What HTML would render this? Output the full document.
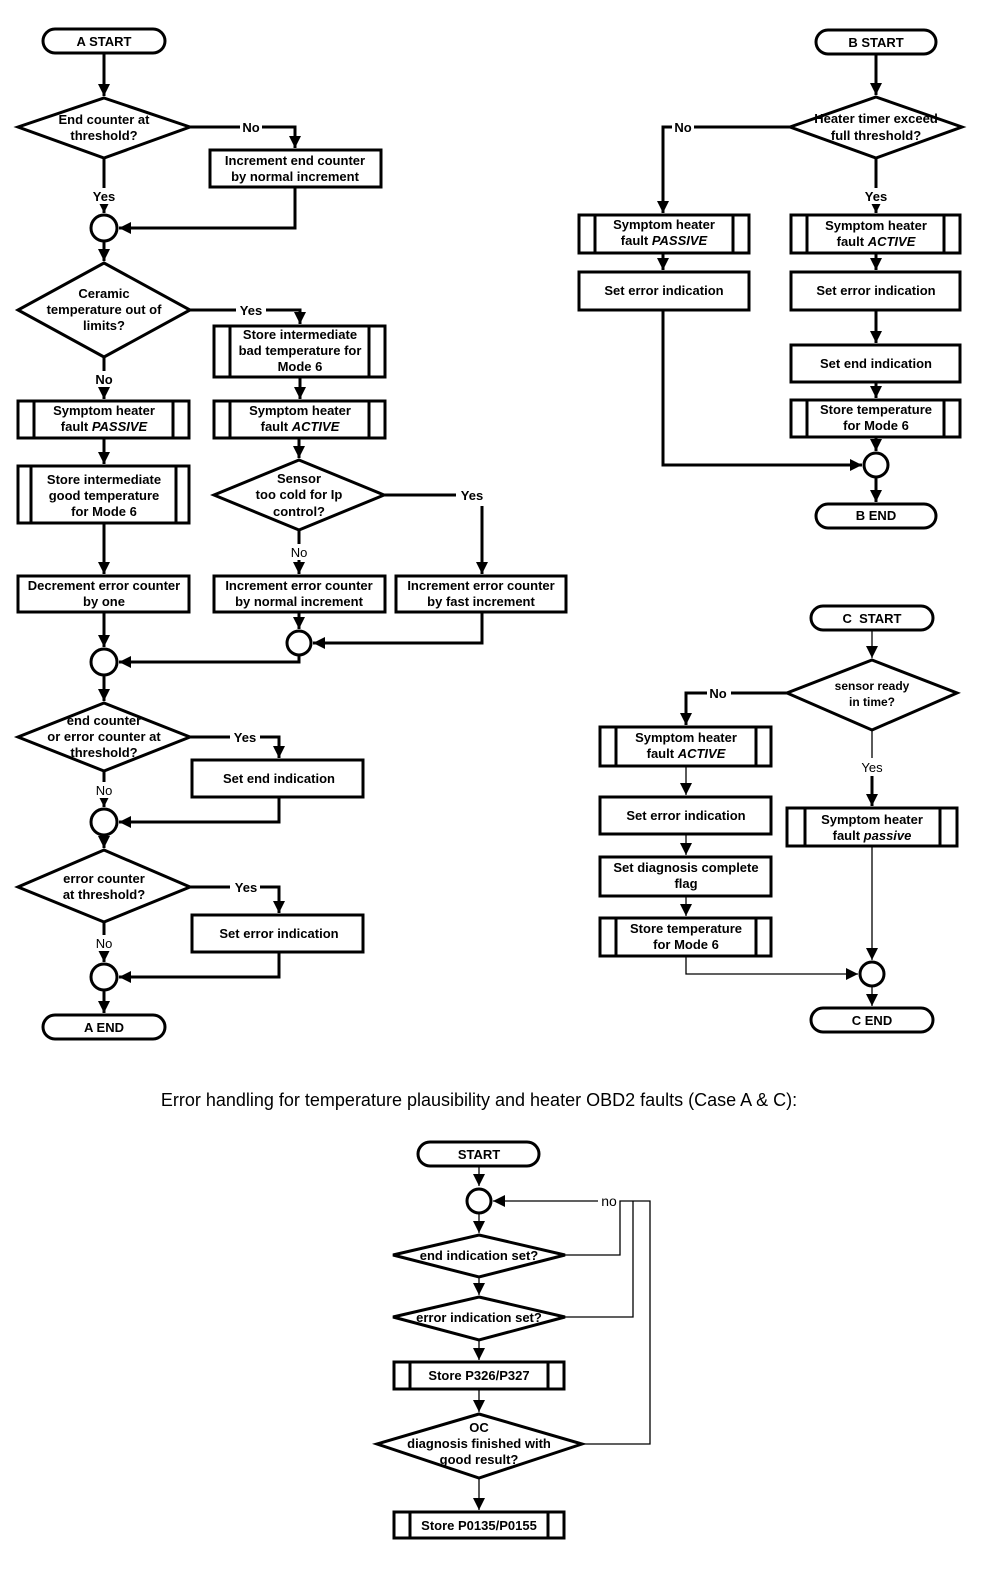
<!DOCTYPE html>
<html><head><meta charset="utf-8"><style>
html,body{margin:0;padding:0;background:#fff;}
svg{display:block;}
text{font-family:"Liberation Sans",Arial,sans-serif;font-weight:bold;font-size:13px;fill:#000;}
.t{text-anchor:middle;}
.n{font-weight:normal;}
</style></head><body>
<svg width="1008" height="1572" viewBox="0 0 1008 1572" xmlns="http://www.w3.org/2000/svg">
<defs>
<marker id="a" markerUnits="userSpaceOnUse" markerWidth="12" markerHeight="12" viewBox="0 0 10 10" refX="10" refY="5" orient="auto"><path d="M0,0L10,5L0,10z" fill="#000"/></marker>
</defs>
<!-- ========== A ========== -->
<g stroke="#000" stroke-width="3" fill="none">
<rect x="43" y="29" width="122" height="24" rx="12" fill="#fff"/>
<line x1="104" y1="53" x2="104" y2="96" marker-end="url(#a)"/>
<polygon points="104,98 190,127 104,158 18,127" fill="#fff"/>
<polyline points="190,127 295,127 295,148" marker-end="url(#a)"/>
<rect x="210" y="150" width="171" height="37" fill="#fff"/>
<polyline points="295,187 295,228 119,228" marker-end="url(#a)"/>
<line x1="104" y1="158" x2="104" y2="213" marker-end="url(#a)"/>
<circle cx="104" cy="228" r="13" fill="#fff"/>
<line x1="104" y1="241" x2="104" y2="261" marker-end="url(#a)"/>
<polygon points="104,263 190,310 104,357 18,310" fill="#fff"/>
<polyline points="190,310 300,310 300,324" marker-end="url(#a)"/>
<rect x="214" y="326" width="171" height="51" fill="#fff"/>
<line x1="230" y1="326" x2="230" y2="377"/><line x1="369" y1="326" x2="369" y2="377"/>
<line x1="300" y1="377" x2="300" y2="399" marker-end="url(#a)"/>
<rect x="214" y="401" width="171" height="37" fill="#fff"/>
<line x1="230" y1="401" x2="230" y2="438"/><line x1="369" y1="401" x2="369" y2="438"/>
<line x1="299" y1="438" x2="299" y2="458" marker-end="url(#a)"/>
<polygon points="299,460 384,495 299,530 214,495" fill="#fff"/>
<polyline points="384,495 482,495"/>
<line x1="482" y1="506" x2="482" y2="574" marker-end="url(#a)"/>
<line x1="299" y1="530" x2="299" y2="574" marker-end="url(#a)"/>
<rect x="214" y="576" width="171" height="36" fill="#fff"/>
<rect x="396" y="576" width="170" height="36" fill="#fff"/>
<line x1="299" y1="612" x2="299" y2="629" marker-end="url(#a)"/>
<polyline points="482,612 482,643 313,643" marker-end="url(#a)"/>
<circle cx="299" cy="643" r="12" fill="#fff"/>
<line x1="104" y1="357" x2="104" y2="399" marker-end="url(#a)"/>
<rect x="18" y="401" width="171" height="37" fill="#fff"/>
<line x1="34" y1="401" x2="34" y2="438"/><line x1="173" y1="401" x2="173" y2="438"/>
<line x1="104" y1="438" x2="104" y2="464" marker-end="url(#a)"/>
<rect x="18" y="466" width="171" height="57" fill="#fff"/>
<line x1="31" y1="466" x2="31" y2="523"/><line x1="176" y1="466" x2="176" y2="523"/>
<line x1="104" y1="523" x2="104" y2="574" marker-end="url(#a)"/>
<rect x="18" y="576" width="171" height="36" fill="#fff"/>
<line x1="104" y1="612" x2="104" y2="647" marker-end="url(#a)"/>
<polyline points="299,655 299,662 119,662" marker-end="url(#a)"/>
<circle cx="104" cy="662" r="13" fill="#fff"/>
<line x1="104" y1="675" x2="104" y2="701" marker-end="url(#a)"/>
<polygon points="104,703 190,737 104,771 18,737" fill="#fff"/>
<polyline points="190,737 279,737 279,758" marker-end="url(#a)"/>
<rect x="192" y="760" width="171" height="37" fill="#fff"/>
<line x1="104" y1="771" x2="104" y2="807" marker-end="url(#a)"/>
<polyline points="279,797 279,822 119,822" marker-end="url(#a)"/>
<circle cx="104" cy="822" r="13" fill="#fff"/>
<line x1="104" y1="835" x2="104" y2="848" marker-end="url(#a)"/>
<polygon points="104,850 190,887 104,922 18,887" fill="#fff"/>
<polyline points="190,887 279,887 279,913" marker-end="url(#a)"/>
<rect x="192" y="915" width="171" height="37" fill="#fff"/>
<line x1="104" y1="922" x2="104" y2="962" marker-end="url(#a)"/>
<polyline points="279,952 279,977 119,977" marker-end="url(#a)"/>
<circle cx="104" cy="977" r="13" fill="#fff"/>
<line x1="104" y1="990" x2="104" y2="1013" marker-end="url(#a)"/>
<rect x="43" y="1015" width="122" height="24" rx="12" fill="#fff"/>
</g>
<g>
<rect x="240" y="120" width="22" height="14" fill="#fff"/>
<rect x="236" y="303" width="30" height="14" fill="#fff"/>
<rect x="456" y="488" width="32" height="14" fill="#fff"/>
<rect x="230" y="730" width="30" height="14" fill="#fff"/>
<rect x="230" y="880" width="30" height="14" fill="#fff"/>
<rect x="90" y="188" width="30" height="16" fill="#fff"/>
<rect x="92" y="371" width="26" height="16" fill="#fff"/>
<rect x="287" y="544" width="26" height="16" fill="#fff"/>
<rect x="92" y="782" width="26" height="16" fill="#fff"/>
<rect x="92" y="935" width="26" height="16" fill="#fff"/>
</g>
<g class="t">
<text x="104" y="46">A START</text>
<text x="104" y="124">End counter at</text><text x="104" y="140">threshold?</text>
<text x="251" y="132">No</text>
<text x="295" y="165">Increment end counter</text><text x="295" y="181">by normal increment</text>
<text x="104" y="201">Yes</text>
<text x="104" y="298">Ceramic</text><text x="104" y="314">temperature out of</text><text x="104" y="330">limits?</text>
<text x="251" y="315">Yes</text>
<text x="300" y="339">Store intermediate</text><text x="300" y="355">bad temperature for</text><text x="300" y="371">Mode 6</text>
<text x="104" y="384">No</text>
<text x="104" y="415">Symptom heater</text><text x="104" y="431">fault <tspan font-style="italic">PASSIVE</tspan></text>
<text x="300" y="415">Symptom heater</text><text x="300" y="431">fault <tspan font-style="italic">ACTIVE</tspan></text>
<text x="299" y="483">Sensor</text><text x="299" y="499">too cold for Ip</text><text x="299" y="516">control?</text>
<text x="472" y="500">Yes</text>
<text x="299" y="557" class="n">No</text>
<text x="104" y="484">Store intermediate</text><text x="104" y="500">good temperature</text><text x="104" y="516">for Mode 6</text>
<text x="104" y="590">Decrement error counter</text><text x="104" y="606">by one</text>
<text x="299" y="590">Increment error counter</text><text x="299" y="606">by normal increment</text>
<text x="481" y="590">Increment error counter</text><text x="481" y="606">by fast increment</text>
<text x="104" y="725">end counter</text><text x="104" y="741">or error counter at</text><text x="104" y="757">threshold?</text>
<text x="245" y="742">Yes</text>
<text x="279" y="783">Set end indication</text>
<text x="104" y="795" class="n">No</text>
<text x="104" y="883">error counter</text><text x="104" y="899">at threshold?</text>
<text x="246" y="892">Yes</text>
<text x="279" y="938">Set error indication</text>
<text x="104" y="948" class="n">No</text>
<text x="104" y="1032">A END</text>
</g>
<!-- ========== B ========== -->
<g stroke="#000" stroke-width="3" fill="none">
<rect x="816" y="30" width="120" height="24" rx="12" fill="#fff"/>
<line x1="876" y1="54" x2="876" y2="95" marker-end="url(#a)"/>
<polygon points="876,97 962,127 876,158 790,127" fill="#fff"/>
<polyline points="790,127 663,127 663,213" marker-end="url(#a)"/>
<line x1="876" y1="158" x2="876" y2="213" marker-end="url(#a)"/>
<rect x="579" y="215" width="170" height="38" fill="#fff"/>
<line x1="595" y1="215" x2="595" y2="253"/><line x1="733" y1="215" x2="733" y2="253"/>
<rect x="791" y="215" width="169" height="38" fill="#fff"/>
<line x1="807" y1="215" x2="807" y2="253"/><line x1="944" y1="215" x2="944" y2="253"/>
<line x1="663" y1="253" x2="663" y2="270" marker-end="url(#a)"/>
<line x1="876" y1="253" x2="876" y2="270" marker-end="url(#a)"/>
<rect x="579" y="272" width="170" height="38" fill="#fff"/>
<rect x="791" y="272" width="169" height="38" fill="#fff"/>
<line x1="876" y1="310" x2="876" y2="343" marker-end="url(#a)"/>
<rect x="791" y="345" width="169" height="37" fill="#fff"/>
<line x1="876" y1="382" x2="876" y2="398" marker-end="url(#a)"/>
<rect x="791" y="400" width="169" height="37" fill="#fff"/>
<line x1="807" y1="400" x2="807" y2="437"/><line x1="944" y1="400" x2="944" y2="437"/>
<line x1="876" y1="437" x2="876" y2="451" marker-end="url(#a)"/>
<polyline points="663,310 663,465 862,465" marker-end="url(#a)"/>
<circle cx="876" cy="465" r="12" fill="#fff"/>
<line x1="876" y1="477" x2="876" y2="502" marker-end="url(#a)"/>
<rect x="816" y="504" width="120" height="24" rx="12" fill="#fff"/>
</g>
<rect x="672" y="120" width="22" height="14" fill="#fff"/>
<rect x="862" y="188" width="28" height="16" fill="#fff"/>
<g class="t">
<text x="876" y="47">B START</text>
<text x="876" y="123">Heater timer exceed</text><text x="876" y="140">full threshold?</text>
<text x="683" y="132">No</text>
<text x="876" y="201">Yes</text>
<text x="664" y="229">Symptom heater</text><text x="664" y="245">fault <tspan font-style="italic">PASSIVE</tspan></text>
<text x="876" y="230">Symptom heater</text><text x="876" y="246">fault <tspan font-style="italic">ACTIVE</tspan></text>
<text x="664" y="295">Set error indication</text>
<text x="876" y="295">Set error indication</text>
<text x="876" y="368">Set end indication</text>
<text x="876" y="414">Store temperature</text><text x="876" y="430">for Mode 6</text>
<text x="876" y="520">B END</text>
</g>
<!-- ========== C ========== -->
<g stroke="#000" stroke-width="1.3" fill="none">
<line x1="872" y1="630" x2="872" y2="658" marker-end="url(#a)"/>
<line x1="872" y1="730" x2="872" y2="758"/>
<line x1="686" y1="766" x2="686" y2="795" marker-end="url(#a)"/>
<line x1="686" y1="834" x2="686" y2="855" marker-end="url(#a)"/>
<line x1="686" y1="896" x2="686" y2="916" marker-end="url(#a)"/>
<polyline points="686,956 686,974 858,974" marker-end="url(#a)"/>
<line x1="872" y1="846" x2="872" y2="960" marker-end="url(#a)"/>
<line x1="872" y1="986" x2="872" y2="1006" marker-end="url(#a)"/>
</g>
<g stroke="#000" stroke-width="3" fill="none">
<line x1="872" y1="776" x2="872" y2="806" marker-end="url(#a)"/>
<polyline points="787,693 686,693 686,725" marker-end="url(#a)"/>
<rect x="811" y="606" width="122" height="24" rx="12" fill="#fff"/>
<polygon points="872,660 957,693 872,730 787,693" fill="#fff"/>
<rect x="600" y="727" width="171" height="39" fill="#fff"/>
<line x1="616" y1="727" x2="616" y2="766"/><line x1="756" y1="727" x2="756" y2="766"/>
<rect x="787" y="808" width="170" height="38" fill="#fff"/>
<line x1="805" y1="808" x2="805" y2="846"/><line x1="940" y1="808" x2="940" y2="846"/>
<rect x="600" y="797" width="171" height="37" fill="#fff"/>
<rect x="600" y="857" width="171" height="39" fill="#fff"/>
<rect x="600" y="918" width="171" height="38" fill="#fff"/>
<line x1="616" y1="918" x2="616" y2="956"/><line x1="756" y1="918" x2="756" y2="956"/>
<circle cx="872" cy="974" r="12" fill="#fff"/>
<rect x="811" y="1008" width="122" height="24" rx="12" fill="#fff"/>
</g>
<rect x="707" y="686" width="24" height="14" fill="#fff"/>
<g class="t">
<text x="872" y="623">C&#160;&#160;START</text>
<text x="872" y="690" style="font-size:12px">sensor ready</text><text x="872" y="706" style="font-size:12px">in time?</text>
<text x="718" y="698">No</text>
<text x="872" y="772" class="n">Yes</text>
<text x="686" y="742">Symptom heater</text><text x="686" y="758">fault <tspan font-style="italic">ACTIVE</tspan></text>
<text x="686" y="820">Set error indication</text>
<text x="686" y="872">Set diagnosis complete</text><text x="686" y="888">flag</text>
<text x="686" y="933">Store temperature</text><text x="686" y="949">for Mode 6</text>
<text x="872" y="824">Symptom heater</text><text x="872" y="840">fault <tspan font-style="italic">passive</tspan></text>
<text x="872" y="1025">C END</text>
</g>
<!-- title -->
<text x="479" y="1106" class="t n" style="font-size:18px">Error handling for temperature plausibility and heater OBD2 faults (Case A &amp; C):</text>
<!-- ========== bottom ========== -->
<g stroke="#000" stroke-width="1.3" fill="none">
<line x1="479" y1="1166" x2="479" y2="1186" marker-end="url(#a)"/>
<line x1="479" y1="1212" x2="479" y2="1233" marker-end="url(#a)"/>
<line x1="479" y1="1277" x2="479" y2="1295" marker-end="url(#a)"/>
<line x1="479" y1="1340" x2="479" y2="1360" marker-end="url(#a)"/>
<line x1="479" y1="1389" x2="479" y2="1412" marker-end="url(#a)"/>
<line x1="479" y1="1478" x2="479" y2="1510" marker-end="url(#a)"/>
<line x1="598" y1="1201" x2="493" y2="1201" marker-end="url(#a)"/>
<polyline points="565,1255 620,1255 620,1201 650,1201 650,1444 582,1444"/>
<polyline points="565,1317 633,1317 633,1201"/>
</g>
<g stroke="#000" stroke-width="3" fill="none">
<rect x="418" y="1142" width="121" height="24" rx="12" fill="#fff"/>
<circle cx="479" cy="1201" r="12" fill="#fff"/>
<polygon points="479,1235 565,1255 479,1277 393,1255" fill="#fff"/>
<polygon points="479,1297 565,1317 479,1340 393,1317" fill="#fff"/>
<rect x="394" y="1362" width="170" height="27" fill="#fff"/>
<line x1="410" y1="1362" x2="410" y2="1389"/><line x1="548" y1="1362" x2="548" y2="1389"/>
<polygon points="479,1414 582,1444 479,1478 377,1444" fill="#fff"/>
<rect x="394" y="1512" width="170" height="26" fill="#fff"/>
<line x1="410" y1="1512" x2="410" y2="1538"/><line x1="548" y1="1512" x2="548" y2="1538"/>
</g>
<g class="t">
<text x="479" y="1159">START</text>
<text x="609" y="1206" class="n" style="font-size:14px">no</text>
<text x="479" y="1260">end indication set?</text>
<text x="479" y="1322">error indication set?</text>
<text x="479" y="1380">Store P326/P327</text>
<text x="479" y="1432">OC</text><text x="479" y="1448">diagnosis finished with</text><text x="479" y="1464">good result?</text>
<text x="479" y="1530">Store P0135/P0155</text>
</g>
</svg>
</body></html>
